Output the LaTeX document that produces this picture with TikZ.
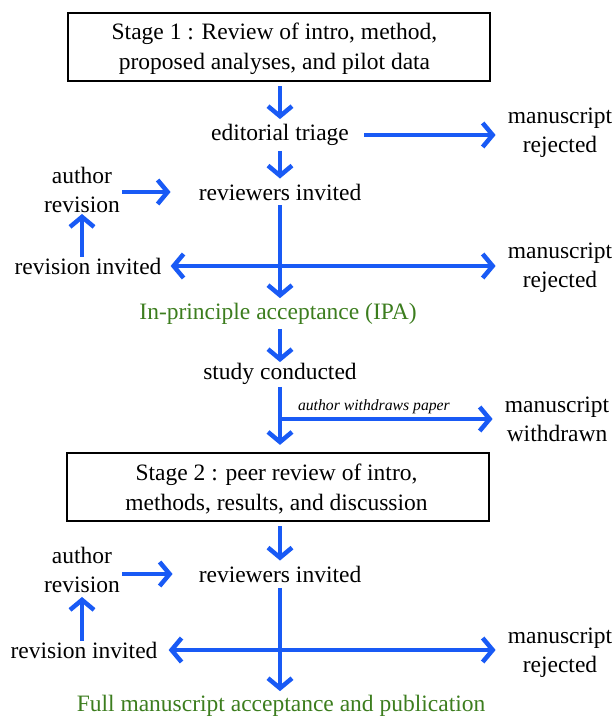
\documentclass[tikz,border=0pt]{standalone}
\usepackage{fontspec}
\setmainfont{Liberation Serif}
\usetikzlibrary{arrows.meta}

\definecolor{flowblue}{RGB}{25,90,245}
\definecolor{okgreen}{RGB}{60,125,30}

\tikzset{
	txt/.style={inner sep=1pt, align=center, yshift=-2pt, font=\fontsize{23.5}{29}\selectfont},
	stagebox/.style={txt, yshift=2pt, draw, line width=2.2pt, minimum width=422pt, minimum height=68pt},
	arr/.style={draw=flowblue, line width=4.5pt, -{Straight Barb[length=10pt,width=24pt]}, shorten <=4pt, shorten >=4pt},
	darr/.style={arr, {Straight Barb[length=10pt,width=24pt]}-{Straight Barb[length=10pt,width=24pt]}},
	note/.style={font=\fontsize{15.7}{18}\selectfont\itshape, inner sep=1pt},
}

\begin{document}
\begin{tikzpicture}[x=1pt,y=-1pt]
	\useasboundingbox (0,0) rectangle (613,717);

	% stage 1
	\node[stagebox] (stage1) at (279,47) {\rule{0pt}{21pt}Stage 1 : Review of intro, method,\hspace*{9pt}\\[1pt] proposed analyses, and pilot data\hspace*{9pt}};
	\node[txt] (triage) at (280,133) {editorial triage};
	\node[txt] (reject1) at (560,131) {manuscript\\ rejected};
	\node[txt] (review1) at (280,190) {reviewers invited};
	\node[txt] (author1) at (82,188) {author\\ revision};
	\node[txt] (revise1) at (88,264) {revision invited};
	\node[txt] (reject2) at (560,266) {manuscript\\ rejected};
	\node[txt, text=okgreen] (ipa) at (278,312) {In-principle acceptance (IPA)};
	\node[txt] (study) at (280,372) {study conducted};
	\node[txt] (withdrawn) at (557,417) {manuscript\\ withdrawn};

	% stage 2
	\node[stagebox] (stage2) at (278,487) {\rule{0pt}{21pt}Stage 2 : peer review of intro,\hspace*{3pt}\\[1pt] methods, results, and discussion\hspace*{3pt}};
	\node[txt] (review2) at (280,572) {reviewers invited};
	\node[txt] (author2) at (82,568) {author\\ revision};
	\node[txt] (revise2) at (84,648) {revision invited};
	\node[txt] (reject3) at (560,651) {manuscript\\ rejected};
	\node[txt, text=okgreen] (full) at (281,704) {Full manuscript acceptance and publication};

	% connectors, stage 1
	\path (stage1.south -| triage) edge[arr] (triage.north);
	\path (triage.south) edge[arr] (review1.north);
	\path (triage.east) edge[arr, shorten <=14pt, shorten >=11pt] (triage.east -| reject1.west);
	\path (author1.east |- review1) edge[arr, shorten <=1pt, shorten >=27pt] (review1.west);
	\path (author1.south |- revise1.north) edge[arr, shorten <=0pt, shorten >=0pt] (author1.south);
	\path (review1.south) edge[arr] (review1.south |- ipa.north);
	\path (revise1.east) edge[darr, shorten <=8pt, shorten >=11pt] (revise1.east -| reject2.west);
	\path (ipa.south -| study) edge[arr, shorten <=3pt, shorten >=0pt] (study.north);
	\path (study.south) edge[arr, shorten <=1pt, shorten >=7pt] (stage2.north -| study);
	\path (study.south |- withdrawn.west) edge[arr, shorten <=0pt, shorten >=11pt] node[note, pos=0.42, above=2pt] {author withdraws paper} (withdrawn.west);

	% connectors, stage 2
	\path (stage2.south -| review2) edge[arr] (review2.north);
	\path (author2.east |- review2) edge[arr, shorten <=1pt, shorten >=25pt] (review2.west);
	\path (author2.south |- revise2.north) edge[arr, shorten <=0pt, shorten >=3pt] (author2.south);
	\path (review2.south) edge[arr, shorten <=5pt, shorten >=3pt] (review2.south |- full.north);
	\path (revise2.east) edge[darr, shorten <=10pt, shorten >=11pt] (revise2.east -| reject3.west);
\end{tikzpicture}
\end{document}
